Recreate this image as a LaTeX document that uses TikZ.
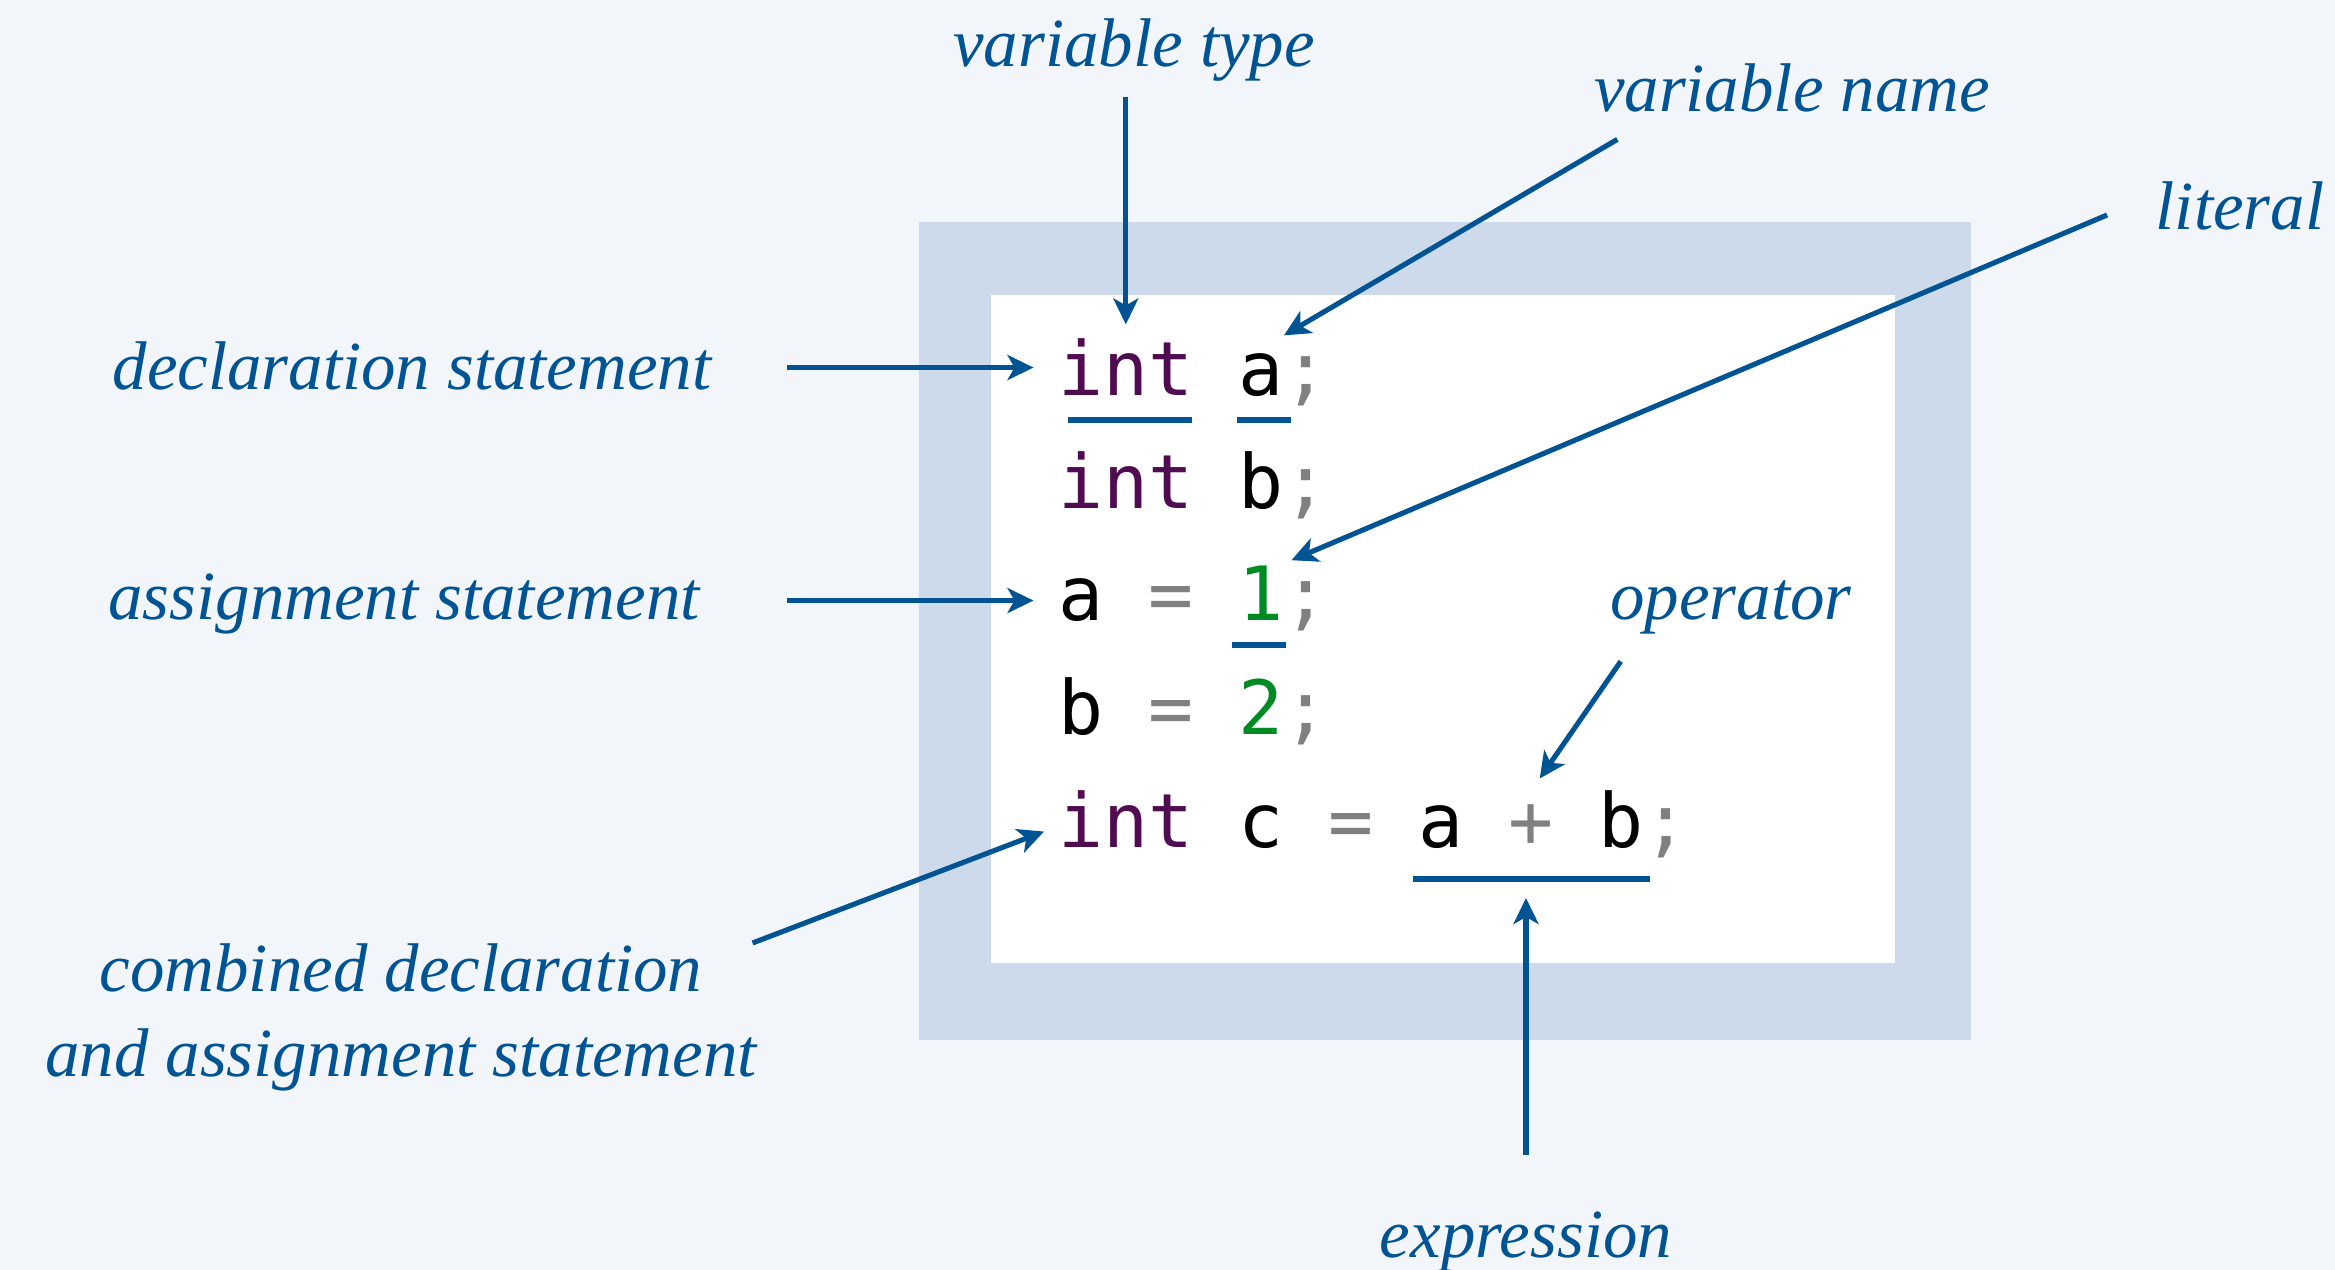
\documentclass[tikz,border=0pt]{standalone}
\usepackage{fontspec}
\setmainfont{Liberation Serif}
\newfontfamily\codefont{DejaVu Sans Mono}
\usetikzlibrary{arrows.meta}
\definecolor{bgpage}{RGB}{242,245,249}
\definecolor{frameblue}{RGB}{204,218,236}
\definecolor{inkblue}{RGB}{0,84,148}
\definecolor{kwpurple}{RGB}{80,12,80}
\definecolor{litgreen}{RGB}{0,138,36}
\definecolor{opgray}{RGB}{128,128,128}
\begin{document}
\begin{tikzpicture}[x=0.1mm, y=-0.1mm,
  lbl/.style={font=\fontsize{19.6}{24.1}\selectfont\itshape, text=inkblue, inner sep=0pt, anchor=base},
  code/.style={font=\codefont\fontsize{21.3}{26}\selectfont, inner sep=0pt, anchor=base west},
  arr/.style={draw=inkblue, line width=1.45pt, -{Stealth[length=2.6mm, width=2.5mm, inset=0.7mm]}},
  uline/.style={draw=inkblue, line width=1.7pt}]
\useasboundingbox (0,0) rectangle (2335,1270);
\fill[bgpage] (0,0) rectangle (2335,1270);

\fill[frameblue] (919,222) rectangle (1971,1040);
\fill[white] (991,295) rectangle (1895,963);

\node[code, text=kwpurple] at (1057.5,396) (int1) {int};
\node[code] at (1237.5,396) (a1) {a};
\node[code, text=opgray] at (1282.5,396) (semi1) {;};

\node[code, text=kwpurple] at (1057.5,509) (int2) {int};
\node[code] at (1237.5,509) (b2) {b};
\node[code, text=opgray] at (1282.5,509) (semi2) {;};

\node[code] at (1057.5,621) (a3) {a};
\node[code, text=opgray] at (1147.5,621) (eq3) {=};
\node[code, text=litgreen] at (1237.5,621) (one) {1};
\node[code, text=opgray] at (1282.5,621) (semi3) {;};

\node[code] at (1057.5,735) (b4) {b};
\node[code, text=opgray] at (1147.5,735) (eq4) {=};
\node[code, text=litgreen] at (1237.5,735) (two) {2};
\node[code, text=opgray] at (1282.5,735) (semi4) {;};

\node[code, text=kwpurple] at (1057.5,848) (int5) {int};
\node[code] at (1237.5,848) (c5) {c};
\node[code, text=opgray] at (1327.5,848) (eq5) {=};
\node[code] at (1417.5,848) (a5) {a};
\node[code, text=opgray] at (1507.5,848) (plus) {+};
\node[code] at (1597.5,848) (b5) {b};
\node[code, text=opgray] at (1642.5,848) (semi5) {;};

\draw[uline] (1068,420) -- (1192,420);
\draw[uline] (1237,420) -- (1291,420);
\draw[uline] (1232,645) -- (1286,645);
\draw[uline] (1413,879) -- (1650,879);
\coordinate (sum) at (1531,879);

\node[lbl] at (1134,67) (vtype) {variable type};
\node[lbl] at (1792,112) (vname) {variable name};
\node[lbl] at (2240,230) (lit) {literal};
\node[lbl] at (412,390) (decl) {declaration statement};
\node[lbl] at (404,620) (asg) {assignment statement};
\node[lbl, align=center, anchor=north] at (401,943) (comb) {combined declaration\\and assignment statement};
\node[lbl] at (1731,620) (op) {operator};
\node[lbl] at (1526,1258) (expr) {expression};

\draw[arr, shorten <=1.4mm, shorten >=1.4mm] (vtype.south -| int1.north) -- (int1.north);
\draw[arr] ([xshift=2.4mm, yshift=-2.6mm]vname.south west) -- ([yshift=1.8mm]a1.north east);
\draw[arr] ([xshift=-4.8mm, yshift=1.5mm]lit.base west) -- ([xshift=0.75mm, yshift=0.55mm]one.north east);
\draw[arr, shorten <=7.5mm, shorten >=2.4mm] (decl.east |- int1.west) -- (int1.west);
\draw[arr, shorten <=8.7mm, shorten >=2.4mm] (asg.east |- a3.west) -- (a3.west);
\draw[arr] ([xshift=-0.5mm]comb.north east) -- ([xshift=-1.35mm, yshift=-1.2mm]int5.west);
\draw[arr] ([xshift=1.1mm, yshift=-2.6mm]op.south west) -- ([xshift=0.9mm, yshift=2.6mm]plus.north);
\draw[arr, shorten <=5.7mm, shorten >=1.9mm] (expr.north) -- (expr.north |- sum);
\end{tikzpicture}
\end{document}
